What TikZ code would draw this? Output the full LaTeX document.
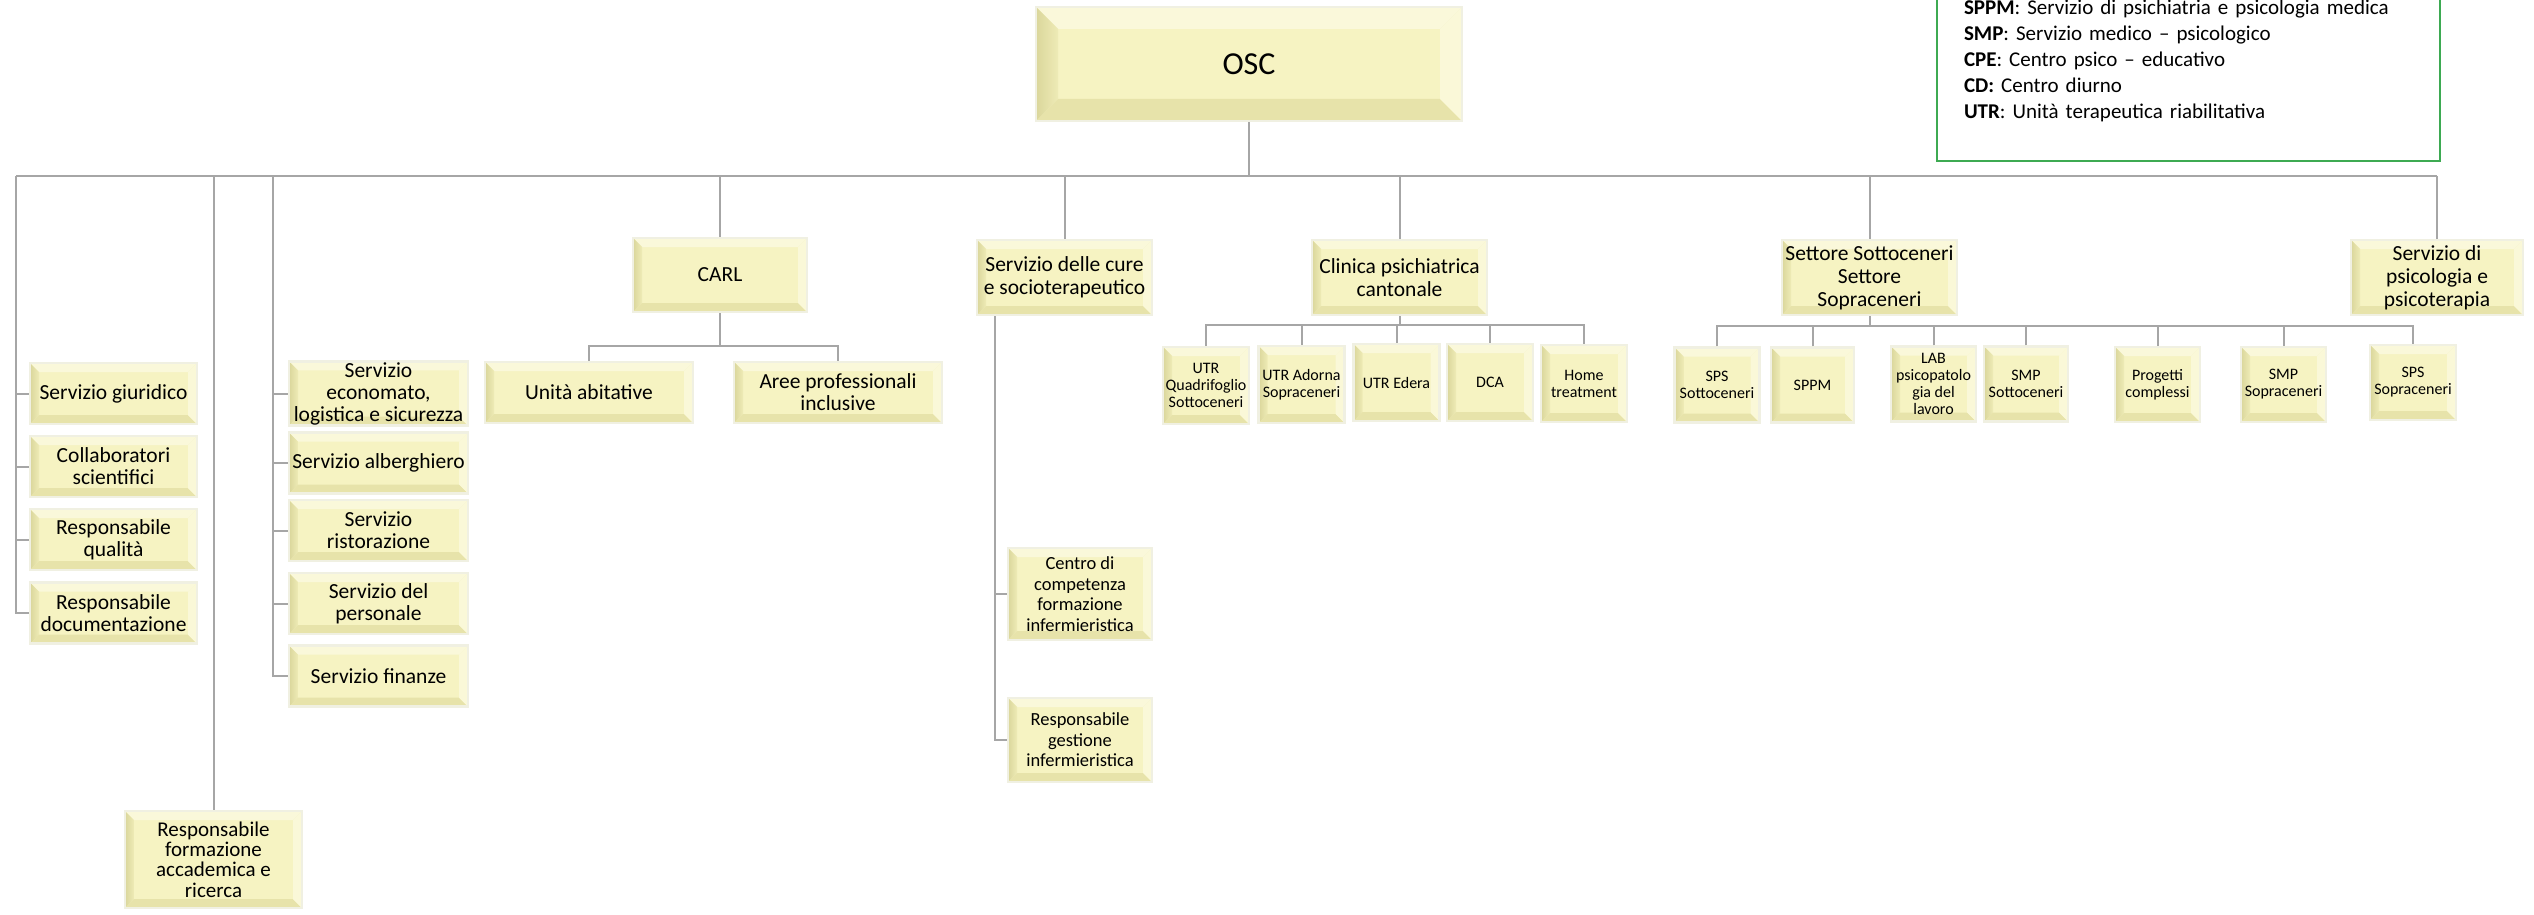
\documentclass[tikz,border=0pt]{standalone}
\usepackage{fontspec}
\setmainfont{Carlito}
\definecolor{boxfill}{HTML}{F6F3C2}
\definecolor{bevtop}{HTML}{FAF8DA}
\definecolor{bevleft}{HTML}{DAD69B}
\definecolor{bevleftin}{HTML}{EEEBB6}
\definecolor{bevbot}{HTML}{E7E3AA}
\definecolor{bevright}{HTML}{FAF8D8}
\definecolor{boxrim}{HTML}{F0F0E2}
\definecolor{linegray}{HTML}{A6A6A6}
\definecolor{leggreen}{HTML}{3DAA52}
% bevel look of the boxes, #1 = bevel size
\newcommand{\bevelbox}[1]{%
  \fill[bevtop] (path picture bounding box.north west) -- (path picture bounding box.north east)
    -- ([xshift=-#1,yshift=-#1]path picture bounding box.north east)
    -- ([xshift=#1,yshift=-#1]path picture bounding box.north west) -- cycle;
  \shade[left color=bevleft,right color=bevleftin] (path picture bounding box.north west)
    -- ([xshift=#1,yshift=-#1]path picture bounding box.north west)
    -- ([xshift=#1,yshift=#1]path picture bounding box.south west)
    -- (path picture bounding box.south west) -- cycle;
  \fill[bevbot] (path picture bounding box.south west)
    -- ([xshift=#1,yshift=#1]path picture bounding box.south west)
    -- ([xshift=-#1,yshift=#1]path picture bounding box.south east)
    -- (path picture bounding box.south east) -- cycle;
  \fill[bevright] (path picture bounding box.north east) -- (path picture bounding box.south east)
    -- ([xshift=-#1,yshift=#1]path picture bounding box.south east)
    -- ([xshift=-#1,yshift=-#1]path picture bounding box.north east) -- cycle;
}
\begin{document}
\begin{tikzpicture}[x=1pt,y=-1pt]
  \tikzstyle{boxbase}=[rectangle,draw=boxrim,line width=2.5pt,fill=boxfill,align=center,inner sep=1pt,text=black]
  \tikzstyle{unit}=[boxbase,path picture={\bevelbox{9pt}},font=\fontsize{21.5}{22}\selectfont]
  \tikzstyle{topunit}=[boxbase,path picture={\bevelbox{22pt}},font=\fontsize{32}{36}\selectfont]
  \tikzstyle{leftcol}=[unit,minimum width=167pt,minimum height=61pt]
  \tikzstyle{servcol}=[unit,minimum width=179pt,minimum height=61pt]
  \tikzstyle{head}=[unit,minimum width=175pt,minimum height=75pt,font=\fontsize{21.5}{23}\selectfont]
  \tikzstyle{nurse}=[unit,minimum width=144pt,font=\fontsize{18.5}{20.5}\selectfont]
  \tikzstyle{small}=[unit,minimum width=86pt,minimum height=77pt,font=\fontsize{16}{17}\selectfont]
  \tikzstyle{edge}=[draw=linegray,line width=2pt]
  \tikzstyle{legend}=[rectangle,draw=leggreen,line width=2.5pt,fill=white,text width=449pt,inner xsep=27pt,minimum height=201pt,align=left,font=\fontsize{21}{26}\selectfont]
  \useasboundingbox (0,0) rectangle (2534,915);
  \clip (0,0) rectangle (2534,915);

  % legend
  \node[legend] (leg) at (2188.5,60.5) {\textbf{SPPM}: Servizio di psichiatria e psicologia medica\\
    \textbf{SMP}: Servizio medico – psicologico\\
    \textbf{CPE}: Centro psico – educativo\\
    \textbf{CD:} Centro diurno\\
    \textbf{UTR}: Unità terapeutica riabilitativa};

  % top
  \node[topunit,minimum width=426pt,minimum height=114pt] (osc) at (1249,64) {OSC};
  \coordinate (bus) at (1249,176);
  \coordinate (busw) at (16,176);
  \coordinate (col2) at (273,176);

  % staff columns
  \node[leftcol] (giur) at (113.5,393.5) {Servizio giuridico};
  \node[leftcol] (collab) at (113.5,466.5) {Collaboratori\\scientifici};
  \node[leftcol] (qual) at (113.5,539.5) {Responsabile\\qualità};
  \node[leftcol] (doc) at (113.5,613) {Responsabile\\documentazione};
  \node[servcol] (econ) at (378.5,393.5) {Servizio\\economato,\\logistica e sicurezza};
  \node[servcol] (alb) at (378.5,463) {Servizio alberghiero};
  \node[servcol] (rist) at (378.5,530.5) {Servizio\\ristorazione};
  \node[servcol] (pers) at (378.5,603.5) {Servizio del\\personale};
  \node[servcol] (fin) at (378.5,676) {Servizio finanze};
  \node[unit,minimum width=177pt,minimum height=97pt,font=\fontsize{21}{20.4}\selectfont] (form) at (213.5,859.5) {Responsabile\\formazione\\accademica e\\ricerca};

  % CARL
  \node[head,minimum width=174pt,minimum height=74pt] (carl) at (720,275) {CARL};
  \node[unit,minimum width=208pt,minimum height=61pt] (unita) at (589,392.5) {Unità abitative};
  \node[unit,minimum width=208pt,minimum height=61pt] (aree) at (838,392.5) {Aree professionali\\inclusive};
  \coordinate (carlbus) at (720,346);

  % cure
  \node[head] (cure) at (1064.5,277.5) {Servizio delle cure\\e socioterapeutico};
  \node[nurse,minimum height=92pt] (centro) at (1080,594) {Centro di\\competenza\\formazione\\infermieristica};
  \node[nurse,minimum height=84pt] (gest) at (1080,740) {Responsabile\\gestione\\infermieristica};
  \coordinate (curel) at ([xshift=19pt]cure.south west);

  % clinica
  \node[head] (clin) at (1399.5,277.5) {Clinica psichiatrica\\cantonale};
  \node[small] (utrq) at (1206,385.5) {UTR\\Quadrifoglio\\Sottoceneri};
  \node[small] (utra) at (1301.5,384.5) {UTR Adorna\\Sopraceneri};
  \node[small] (utre) at (1396.5,382.5) {UTR Edera};
  \node[small] (dca) at (1490,382.5) {DCA};
  \node[small] (home) at (1584,383.5) {Home\\treatment};
  \coordinate (clinbus) at (1399.5,325);

  % settore
  \node[head] (sett) at (1869.5,277.5) {Settore Sottoceneri\\Settore\\Sopraceneri};
  \node[small,minimum width=85pt,minimum height=75pt] (spss) at (1717,385) {SPS\\Sottoceneri};
  \node[small,minimum width=83pt,minimum height=75pt] (sppm) at (1812.5,385) {SPPM};
  \node[small,minimum width=85pt,minimum height=75pt] (lab) at (1933.5,384) {LAB\\psicopatolo\\gia del\\lavoro};
  \node[small,minimum width=84pt,minimum height=75pt] (smps) at (2026,384) {SMP\\Sottoceneri};
  \node[small,minimum width=85pt,minimum height=75pt] (prog) at (2157.5,384.5) {Progetti\\complessi};
  \node[small,minimum width=85pt,minimum height=75pt] (smpsop) at (2283.5,384.5) {SMP\\Sopraceneri};
  \node[small,minimum width=86pt,minimum height=75pt] (spssop) at (2413,382.5) {SPS\\Sopraceneri};
  \coordinate (settbus) at (1869.5,326);

  % psicologia
  \node[head,minimum width=172pt] (psico) at (2437,277.5) {Servizio di\\psicologia e\\psicoterapia};

  % connectors
  \draw[edge] (osc) -- (osc |- bus);
  \draw[edge] (busw) -- (psico |- bus);
  \draw[edge] (busw) |- (giur);
  \draw[edge] (busw) |- (collab);
  \draw[edge] (busw) |- (qual);
  \draw[edge] (busw) |- (doc);
  \draw[edge] (form) -- (form |- bus);
  \draw[edge] (col2) |- (econ);
  \draw[edge] (col2) |- (alb);
  \draw[edge] (col2) |- (rist);
  \draw[edge] (col2) |- (pers);
  \draw[edge] (col2) |- (fin);
  \draw[edge] (carl) -- (carl |- bus);
  \draw[edge] (carl) -- (carlbus);
  \draw[edge] (unita) |- (carlbus);
  \draw[edge] (aree) |- (carlbus);
  \draw[edge] (cure) -- (cure |- bus);
  \draw[edge] (curel) |- (centro);
  \draw[edge] (curel) |- (gest);
  \draw[edge] (clin) -- (clin |- bus);
  \draw[edge] (clin) -- (clinbus);
  \draw[edge] (utrq) |- (clinbus);
  \draw[edge] (utra) |- (clinbus);
  \draw[edge] (utre) |- (clinbus);
  \draw[edge] (dca) |- (clinbus);
  \draw[edge] (home) |- (clinbus);
  \draw[edge] (sett) -- (sett |- bus);
  \draw[edge] (sett) -- (settbus);
  \draw[edge] (spss) |- (settbus);
  \draw[edge] (sppm) |- (settbus);
  \draw[edge] (lab) |- (settbus);
  \draw[edge] (smps) |- (settbus);
  \draw[edge] (prog) |- (settbus);
  \draw[edge] (smpsop) |- (settbus);
  \draw[edge] (spssop) |- (settbus);
  \draw[edge] (psico) -- (psico |- bus);
\end{tikzpicture}
\end{document}
